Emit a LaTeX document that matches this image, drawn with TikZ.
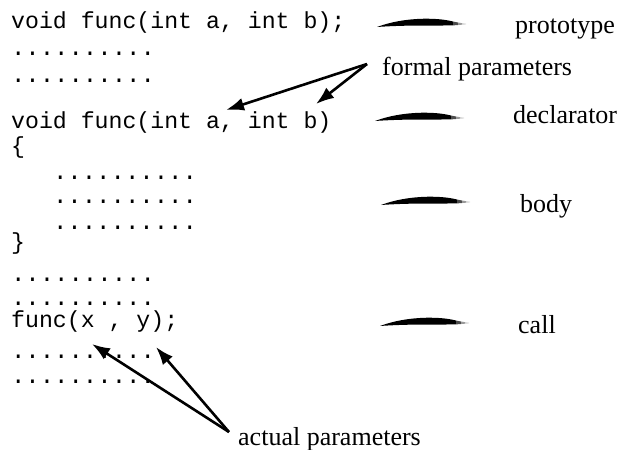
\documentclass[tikz,border=0pt]{standalone}
\usepackage{fontspec}
\setmainfont{Liberation Serif}
\setmonofont{Liberation Mono}
\usetikzlibrary{arrows.meta}
\tikzset{
  code/.style={anchor=base west, inner sep=0pt, font=\ttfamily\fontsize{23.2}{28}\selectfont},
  dotrow/.style={anchor=base west, inner sep=0pt, font=\ttfamily\fontsize{24}{28}\selectfont},
  lbl/.style={anchor=base west, inner sep=0pt, font=\rmfamily\fontsize{26}{30}\selectfont},
  pointer/.style={line width=2.6pt, -{Latex[length=18pt,width=13pt]}},
  brush/.pic={
    \fill[black] (0,0) .. controls (12,-4.5) and (28,-8) .. (48,-8.3)
      .. controls (62,-8.3) and (70,-7) .. (76,-5.5)
      -- (76,-1.6) .. controls (60,-1.4) and (45,-1.4) .. (35,-1.4)
      .. controls (20,-1.2) and (8,-0.6) .. (0,0) -- cycle;
    \fill[black!70] (76,-5.5) -- (81,-4.5) -- (81,-2) -- (76,-1.6) -- cycle;
    \fill[black!40] (81,-4.5) -- (85,-3.8) -- (85,-2.3) -- (81,-2) -- cycle;
    \fill[black!20] (85,-3.8) -- (89,-3.3) -- (89,-2.6) -- (85,-2.3) -- cycle;
  }
}
\begin{document}
\begin{tikzpicture}[x=1pt,y=-1pt]
\useasboundingbox (0,0) rectangle (622,450);
% code column
\node[code] (l1) at (11,28.5) {void func(int a, int b);};
\node[dotrow] (d1) at (10.8,55.5) {..........};
\node[dotrow] (d2) at (10.8,82.5) {..........};
\node[code] (l2) at (11,128) {void func(int a, int b)};
\node[code] (ob) at (11,153) {\{};
\node[dotrow] (d3) at (52.8,179.5) {..........};
\node[dotrow] (d4) at (52.8,203.5) {..........};
\node[dotrow] (d5) at (52.8,229.5) {..........};
\node[code] (cb) at (11,249) {\}};
\node[dotrow] (d6) at (10.8,281.5) {..........};
\node[dotrow] (d7) at (10.8,305.5) {..........};
\node[code] (l3) at (11,327) {func(x , y);};
\node[dotrow] (d8) at (10.8,358.5) {..........};
\node[dotrow] (d9) at (10.8,383.5) {..........};
% brush strokes
\pic at (377,27) {brush};
\pic at (375,121) {brush};
\pic at (381,205) {brush};
\pic at (380,326) {brush};
% labels
\node[lbl] (proto) at (515,33) {prototype};
\node[lbl] (fp) at (382,75) {formal parameters};
\node[lbl] (decl) at (513,123) {declarator};
\node[lbl] (body) at (520,212) {body};
\node[lbl] (call) at (518,333) {call};
\node[lbl] (ap) at (238,445) {actual parameters};
% pointer ends
\coordinate (fpsrc) at (367,64);
\coordinate (pa) at (226,110);
\coordinate (pb) at (316,104);
\coordinate (apsrc) at (229,432);
\coordinate (px) at (92,344);
\coordinate (py) at (156,347);
\draw[pointer] (fpsrc) -- (pa);
\draw[pointer] (fpsrc) -- (pb);
\draw[pointer] (apsrc) -- (px);
\draw[pointer] (apsrc) -- (py);
\end{tikzpicture}
\end{document}
